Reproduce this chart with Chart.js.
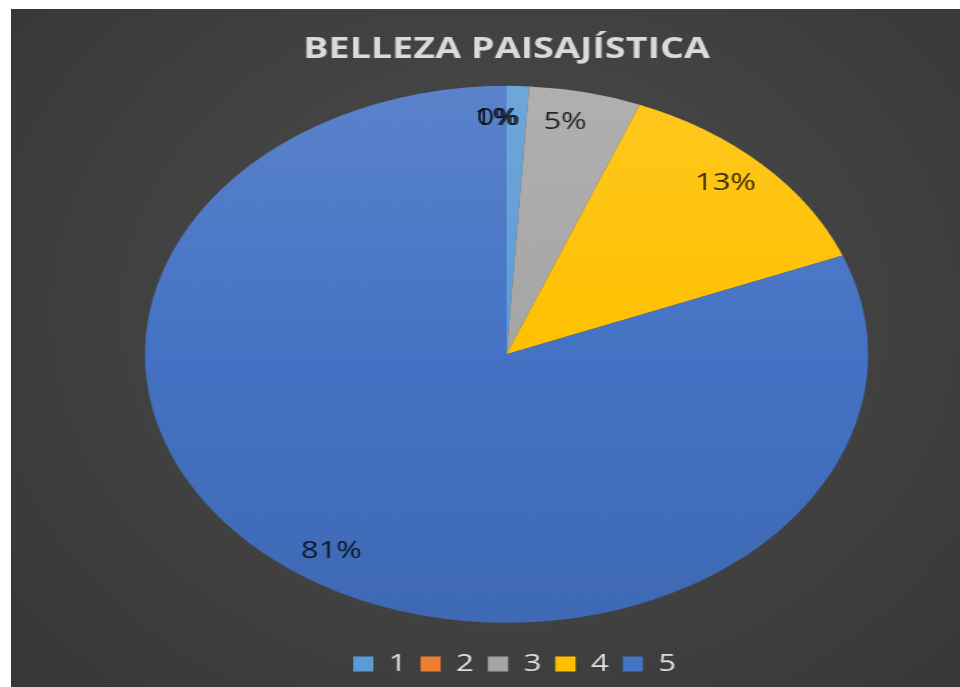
<!DOCTYPE html>
<html>
<head>
<meta charset="utf-8">
<script src="https://cdn.jsdelivr.net/npm/chart.js@4/dist/chart.umd.min.js"></script>
<style>
  html, body { margin: 0; padding: 0; background: #ffffff; width: 960px; height: 687px; overflow: hidden; }
  #frame {
    position: absolute; left: 11px; top: 9px; width: 949px; height: 678px; overflow: hidden;
    background: radial-gradient(ellipse 65% 75% at 52% 45%, #4a4a4a 0%, #434343 50%, #383838 100%);
  }
  #c { position: absolute; left: 0; top: 0; transform-origin: 0 0; transform: scaleX(1.3465); }
</style>
</head>
<body>
<div id="frame"><canvas id="c" width="705" height="678"></canvas></div>
<script>
// Survey answers on a 1–5 scale, share of responses in percent
const categories = ['1', '2', '3', '4', '5'];
const percentages = [1, 0, 5, 13, 81];
const sliceColors = ['#5B9BD5', '#ED7D31', '#A5A5A5', '#FFC000', '#4472C4'];
const chartTitle = 'BELLEZA PAISAJÍSTICA';

// mix a hex colour toward white (amt > 0) or black (amt < 0)
function shade(hex, amt) {
  const n = parseInt(hex.slice(1), 16);
  let r = n >> 16, g = (n >> 8) & 255, b = n & 255;
  const t = amt < 0 ? 0 : 255, p = Math.abs(amt);
  r = Math.round(r + (t - r) * p);
  g = Math.round(g + (t - g) * p);
  b = Math.round(b + (t - b) * p);
  return `rgb(${r},${g},${b})`;
}

// soft top-to-bottom shading across the whole pie
function sliceFill(ctx) {
  const base = sliceColors[ctx.dataIndex];
  const area = ctx.chart.chartArea;
  if (!area) return base;
  const cy = (area.top + area.bottom) / 2;
  const r = Math.min(area.width, area.height) / 2;
  const g = ctx.chart.ctx.createLinearGradient(0, cy - r, 0, cy + r);
  g.addColorStop(0, shade(base, 0.12));
  g.addColorStop(0.5, base);
  g.addColorStop(1, shade(base, -0.08));
  return g;
}

// percentage labels placed inside each slice
const sliceLabels = {
  id: 'sliceLabels',
  afterDatasetsDraw(chart, args, opts) {
    const { ctx } = chart;
    const meta = chart.getDatasetMeta(0);
    ctx.save();
    ctx.font = opts.font;
    ctx.fillStyle = opts.color;
    ctx.textAlign = 'center';
    ctx.textBaseline = 'middle';
    meta.data.forEach((arc, i) => {
      const p = arc.getProps(['x', 'y', 'startAngle', 'endAngle', 'outerRadius'], true);
      const a = (p.startAngle + p.endAngle) / 2 + (opts.angleShift[i] || 0) * Math.PI / 180;
      const r = p.outerRadius * opts.radius;
      ctx.fillText(percentages[i] + '%', p.x + Math.cos(a) * r, p.y + Math.sin(a) * r);
    });
    ctx.restore();
  }
};

// nudge the legend row sideways after layout
const legendShift = {
  id: 'legendShift',
  afterLayout(chart, args, opts) {
    if (chart.legend) {
      chart.legend.left += opts.dx;
      chart.legend.right += opts.dx;
    }
  }
};

new Chart(document.getElementById('c'), {
  type: 'pie',
  data: {
    labels: categories,
    datasets: [{
      data: percentages,
      backgroundColor: sliceFill,
      borderWidth: 0
    }]
  },
  options: {
    responsive: false,
    animation: false,
    layout: { padding: { top: 10, left: 99.5, right: 68.5, bottom: 1.5 } },
    plugins: {
      title: {
        display: true,
        text: chartTitle,
        color: '#dadada',
        font: { family: '"Open Sans", sans-serif', size: 28, weight: 'bold' },
        padding: { top: 14, bottom: 0 }
      },
      legend: {
        position: 'bottom',
        labels: {
          color: '#e0e0e0',
          font: { family: '"Open Sans", sans-serif', size: 23 },
          boxWidth: 15,
          boxHeight: 15,
          padding: 10.4,
          generateLabels: () => categories.map((c, i) => ({
            text: c, fillStyle: sliceColors[i], strokeStyle: sliceColors[i],
            lineWidth: 0, fontColor: '#e0e0e0', index: i, hidden: false
          }))
        }
      },
      tooltip: { enabled: false },
      legendShift: { dx: 6 },
      sliceLabels: {
        font: '23px "Open Sans", sans-serif',
        color: 'rgba(0,0,0,0.8)',
        radius: 0.88,
        angleShift: [-3.7, -5.1, -2, -1.5, -0.8]
      }
    }
  },
  plugins: [sliceLabels, legendShift]
});
</script>
</body>
</html>
